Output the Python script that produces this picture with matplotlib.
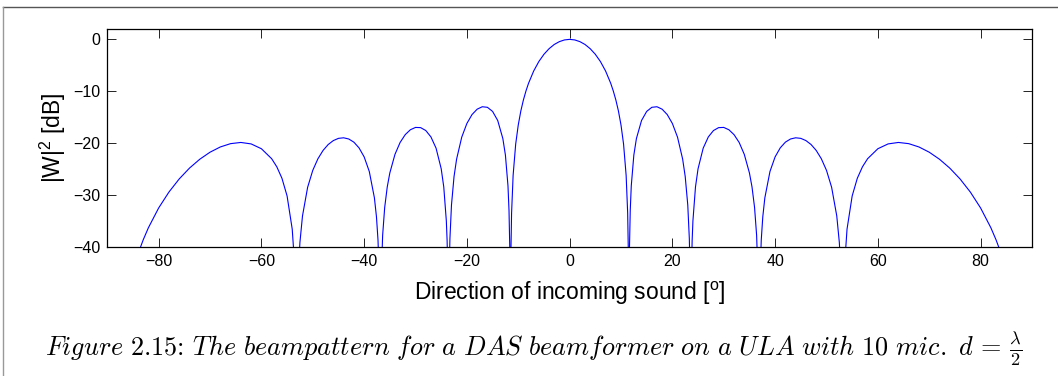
import matplotlib
matplotlib.use("Agg")
import matplotlib.pyplot as plt
from matplotlib.lines import Line2D

# beampattern (angle in degrees, |W|^2 in dB)
angle_deg = [
    -86, -84, -83, -82, -80, -78, -76, -74, -72, -70, -68, -66, -64, -62, -60,
    -58, -57, -56, -55, -54, -53.5,
    -52.8, -52.5, -52, -51, -50, -49, -48, -47, -46, -45, -44, -43, -42, -41,
    -40, -39, -38, -37.6, -37.3, -37.05,
    -36.7, -36.4, -36, -35.5, -35, -34, -33, -32, -31, -30, -29, -28, -27, -26,
    -25, -24.5, -24, -23.85, -23.7,
    -23.45, -23.3, -23, -22.5, -22, -21, -20, -19, -18, -17, -16, -15, -14,
    -13, -12.5, -12, -11.8, -11.65,
    -11.45, -11.3, -11, -10.5, -10, -9.5, -9, -8.5, -8, -7, -6, -5, -4, -3,
    -2, -1, 0, 1, 2, 3, 4, 5, 6, 7, 8, 8.5, 9, 9.5, 10, 10.5, 11, 11.3, 11.45,
    11.65, 11.8, 12, 12.5, 13, 14, 15, 16, 17, 18, 19, 20, 21, 22, 22.5, 23,
    23.3, 23.45,
    23.7, 23.85, 24, 24.5, 25, 26, 27, 28, 29, 30, 31, 32, 33, 34, 35, 35.5,
    36, 36.4, 36.7,
    37.05, 37.3, 37.6, 38, 39, 40, 41, 42, 43, 44, 45, 46, 47, 48, 49, 50,
    51, 52, 52.5, 52.8,
    53.5, 54, 55, 56, 57, 58, 60, 62, 64, 66, 68, 70, 72, 74, 76, 78, 80, 82,
    83, 84, 86,
]
power_db = [
    -48.3, -41.32, -38.66, -36.35, -32.53, -29.46, -26.93, -24.84, -23.13,
    -21.77, -20.76, -20.12, -19.89, -20.17, -21.10,
    -23.03, -24.59, -26.80, -30.21, -36.61, -43.93,
    -44.8, -39.17, -34.06, -28.54, -25.27, -23.04, -21.43, -20.29, -19.53,
    -19.10, -18.99, -19.22, -19.83, -20.93,
    -22.67, -25.48, -30.58, -34.24, -38.75, -46.1,
    -46.7, -37.82, -32.43, -28.46, -25.77, -22.19, -19.89, -18.38, -17.44,
    -16.99, -17.03, -17.59, -18.82, -20.99,
    -24.96, -28.47, -35.03, -38.79, -45.7,
    -45.2, -38.44, -31.98, -26.46, -23.10, -18.86, -16.23, -14.51, -13.47,
    -13.00, -13.11, -13.90, -15.65,
    -19.14, -22.32, -28.26, -33.01, -40.25,
    -42.3, -33.55, -26.24, -20.21, -16.52, -13.82, -11.70, -9.96, -8.48,
    -6.11, -4.29, -2.88, -1.80, -0.99,
    -0.44, -0.11, 0.0, -0.11, -0.44, -0.99, -1.80, -2.88, -4.29, -6.11, -8.48,
    -9.96, -11.70, -13.82, -16.52, -20.21, -26.24, -33.55, -42.3,
    -40.25, -33.01, -28.26, -22.32, -19.14, -15.65, -13.90, -13.11, -13.00,
    -13.47, -14.51, -16.23, -18.86, -23.10, -26.46, -31.98,
    -38.44, -45.2,
    -45.7, -38.79, -35.03, -28.47, -24.96, -20.99, -18.82, -17.59, -17.03,
    -16.99, -17.44, -18.38, -19.89, -22.19, -25.77, -28.46,
    -32.43, -37.82, -46.7,
    -46.1, -38.75, -34.24, -30.58, -25.48, -22.67, -20.93, -19.83, -19.22,
    -18.99, -19.10, -19.53, -20.29, -21.43, -23.04, -25.27,
    -28.54, -34.06, -39.17, -44.8,
    -43.93, -36.61, -30.21, -26.80, -24.59, -23.03, -21.10, -20.17, -19.89,
    -20.12, -20.76, -21.77, -23.13, -24.84, -26.93, -29.46, -32.53, -36.35,
    -38.66, -41.32, -48.3,
]
x_ticks = [-80, -60, -40, -20, 0, 20, 40, 60, 80]
y_ticks = [-40, -30, -20, -10, 0]

caption = (r"$Figure\ 2.15\text{: }The\ beampattern\ for\ a\ DAS\ beamformer\ "
           r"on\ a\ ULA\ with\ 10\ mic.\ d\,=\,\frac{\lambda}{2}$")

plt.rcParams['font.family'] = ['Liberation Sans', 'DejaVu Sans']
plt.rcParams['mathtext.fontset'] = 'custom'
plt.rcParams['mathtext.rm'] = 'Liberation Sans'
plt.rcParams['mathtext.it'] = 'Liberation Sans:italic'

fig = plt.figure(figsize=(10.58, 3.76), dpi=100)
ax = fig.add_axes([0.1014, 0.3439, 0.8740, 0.5790])
ax.plot(angle_deg, power_db, color='#0000ff', lw=0.8)

ax.set_xlim(-90, 90)
ax.set_ylim(-40, 2)
ax.set_xticks(x_ticks)
ax.set_yticks(y_ticks)
ax.tick_params(direction='in', top=True, right=True, length=6.5, width=0.6,
               labelsize=11.5, pad=5)
for s in ax.spines.values():
    s.set_linewidth(0.9)

ax.set_xlabel(r"Direction of incoming sound [$^{\mathrm{o}}$]", fontsize=16.5,
              labelpad=8)
ax.set_ylabel(r"|W|$^2$ [dB]", fontsize=16.5)
ax.yaxis.set_label_coords(-0.042, 0.5)

fig.text(0.043, 0.055, caption, fontsize=18.9, math_fontfamily='cm',
         ha='left', va='baseline')

# page frame
fig.add_artist(Line2D([0.003, 1.0], [0.981, 0.981], color='#555555', lw=1.0))
fig.add_artist(Line2D([0.003, 0.003], [0.0, 0.981], color='#999999', lw=1.0))

fig.savefig('out.png', dpi=100)
